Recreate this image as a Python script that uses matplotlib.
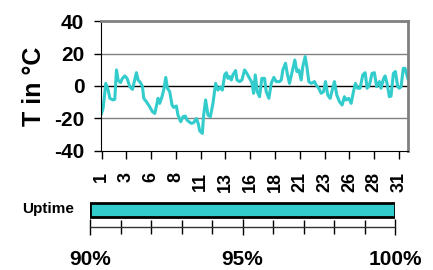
import matplotlib
matplotlib.use("Agg")
import matplotlib.pyplot as plt

plt.rcParams['font.family'] = ['Liberation Sans', 'DejaVu Sans']
plt.rcParams['font.weight'] = 'bold'

# temperature trace (day of month, degrees C)
days = [1.0, 1.16, 1.43, 1.67, 1.84, 2.17, 2.34, 2.51, 2.67, 2.91, 3.11, 3.35,
        3.58, 3.85, 4.12, 4.35, 4.52, 4.69, 4.93, 5.13, 5.26, 5.53, 5.86, 6.13,
        6.37, 6.54, 6.70, 6.87, 7.10, 7.27, 7.48, 7.65, 7.88, 8.11, 8.28, 8.55,
        8.71, 8.99, 9.22, 9.46, 9.62, 9.82, 10.06, 10.29, 10.57, 10.77, 10.90,
        11.17, 11.30, 11.50, 11.74, 11.98, 12.24, 12.51, 12.74, 12.98, 13.19,
        13.42, 13.59, 13.75, 13.92, 14.09, 14.25, 14.52, 14.66, 14.93, 15.16,
        15.43, 15.66, 15.93, 16.17, 16.34, 16.51, 16.71, 16.94, 17.17, 17.44,
        17.61, 17.88, 18.12, 18.38, 18.62, 18.96, 19.13, 19.29, 19.56, 19.73,
        19.96, 20.23, 20.50, 20.70, 20.90, 21.14, 21.30, 21.54, 21.71, 21.91,
        22.15, 22.48, 22.65, 22.91, 23.15, 23.39, 23.59, 23.82, 24.06, 24.32,
        24.49, 24.73, 25.00, 25.27, 25.50, 25.67, 25.93, 26.18, 26.41, 26.61,
        26.84, 27.08, 27.35, 27.59, 27.79, 28.02, 28.29, 28.52, 28.75, 29.03,
        29.19, 29.43, 29.60, 29.80, 30.03, 30.20, 30.44, 30.64, 30.87, 31.04,
        31.21, 31.44, 31.61, 31.89]
temps = [-16.9, -13.8, 1.6, -2.5, -7.6, -8.6, -8.2, 9.9, 3.7, 2.1, 4.7, 6.2,
         4.7, -0.4, -2.1, 3.7, 8.2, 3.7, 2.1, -0.4, -7.6, -9.7, -12.8, -15.8,
         -16.9, -12.3, -7.6, -10.7, -6.6, -2.5, 5.3, -1.4, -3.5, -11.7, -13.2, -12.3,
         -17.9, -22.0, -18.9, -18.5, -21.0, -22.0, -23.0, -22.6, -20.0, -23.5, -27.6,
         -29.2, -17.9, -8.6, -17.9, -18.9, -10.7, 1.6, -2.5, -0.8, -2.5,
         6.8, 8.2, 4.7, 5.8, 3.7, 6.8, 9.5, 3.7, 2.7, 3.7,
         9.9, 7.8, 4.7, 2.1, -4.5, 6.8, -3.5, -6.6, 4.7, 4.7,
         -3.5, -7.6, 1.6, 5.3, 2.7, 2.7, 3.7, 9.9, 14.0, 7.8,
         1.6, 8.9, 16.0, 8.9, 9.9, 3.7, 11.9, 18.1, 11.9, 2.7,
         1.6, 2.7, 0.6, -1.4, -4.5, -3.5, 2.7, -5.6, -7.6, -1.4,
         2.7, -5.6, -9.7, -11.7, -6.6, -8.6, -7.6, -10.7, -3.5, 1.6,
         -1.4, -1.4, 6.8, 8.2, -1.4, 0.6, 7.8, 8.2, -0.4, 2.7,
         -1.4, 4.2, 6.2, 1.6, -6.6, -6.2, 7.8, 8.9, -0.4, -1.4,
         -0.4, 10.9, 10.9, 4.7]

tick_days = [1, 3.5, 6, 8.5, 11, 13.5, 16, 18.5, 21, 23.5, 26, 28.5, 31]
tick_labels = ['1', '3', '6', '8', '11', '13', '16', '18', '21', '23', '26', '28', '31']

uptime = 100
uptime_ticks = [90, 95, 100]
uptime_labels = ['90%', '95%', '100%']

line_color = '#33CCCC'

fig = plt.figure(figsize=(4.33, 2.70), dpi=100)

# temperature chart
ax = fig.add_axes([0.2333, 0.441, 0.7087, 0.481])
ax.plot(days, temps, color=line_color, lw=2.2, solid_joinstyle='round')
ax.set_xlim(0.95, 31.9)
ax.set_ylim(-40, 40)
ax.set_yticks([-40, -20, 0, 20, 40])
ax.set_yticklabels(['-40', '-20', '0', '20', '40'], fontsize=15, fontweight='bold')
ax.set_xticks(tick_days)
ax.set_xticklabels(tick_labels, rotation=90, fontsize=13, fontweight='bold',
                   ha='center', va='top')
ax.tick_params(axis='y', length=5, width=1, pad=7)
ax.tick_params(axis='x', length=6, width=1, pad=9)
ax.axhline(20, color='#808080', lw=1, zorder=0)
ax.axhline(-20, color='#808080', lw=1, zorder=0)
ax.axhline(0, color='black', lw=1, zorder=0)
ax.spines['left'].set_color('black')
ax.spines['bottom'].set_color('black')
ax.spines['top'].set_color('#808080')
ax.spines['right'].set_color('#808080')
ax.spines['top'].set_linewidth(2)
ax.spines['right'].set_linewidth(2)
ax.set_ylabel('T in °C', fontsize=18, fontweight='bold', labelpad=6)

# uptime bar
ax2 = fig.add_axes([0.2079, 0.1581, 0.7044, 0.1012])
ax2.barh([0.62], [uptime - 90], left=90, height=0.52, color=line_color,
         edgecolor='black', lw=2)
ax2.set_xlim(90, 100)
ax2.set_ylim(0, 1)
ax2.set_yticks([])
ax2.set_xticks(uptime_ticks)
ax2.set_xticklabels(uptime_labels, fontsize=15, fontweight='bold')
ax2.set_xticks(range(90, 101), minor=True)
ax2.tick_params(axis='x', which='both', direction='inout', length=10, width=1, pad=10)
ax2.tick_params(axis='x', which='major', length=12)
for s in ['top', 'left', 'right']:
    ax2.spines[s].set_visible(False)
ax2.spines['bottom'].set_linewidth(1)
ax2.spines['bottom'].set_color('#333333')
fig.text(0.050, 0.226, 'Uptime', fontsize=11, fontweight='bold', va='center')

fig.savefig('out.png', dpi=100)
